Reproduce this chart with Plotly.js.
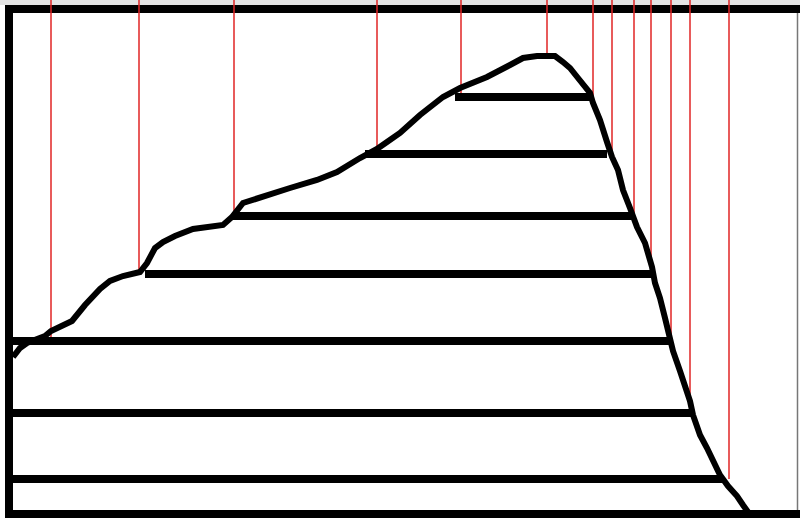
<!DOCTYPE html>
<html>
<head>
<meta charset="utf-8">
<script src="https://cdn.plot.ly/plotly-3.0.1.min.js"></script>
<style>html,body{margin:0;padding:0;background:#fff;}#chart{width:800px;height:518px;}</style>
</head>
<body>
<div id="chart"></div>
<script>
// Mountain profile (horizontal position, elevation)
var profileX = [13,20,27,45,51,60,72,85,100,110,123,140,147,155,163,175,193,223,232,243,267,290,317,337,360,377,387,400,420,443,460,487,510,523,537,555,563,570,578,583,590,593,600,607,612,618,623,630,637,645,652,655,660,665,670,673,680,685,690,693,700,707,713,720,728,737,743,748];
var profileElev = [161,170,175,182,187,191,197,213,229,237,242,246,255,270,276,282,289,293,301,315,323,330,338,346,360,369,376,385,403,421,430,441,453,460,462,462,456,450,440,434,425,415,398,376,361,348,328,310,291,275,251,235,220,200,180,167,147,133,117,103,83,70,57,43,32,22,13,6];

// Horizontal level bars
var levelElev = [39,105,177,244,302,364,421];
var levelLeft = [13,13,13,145,232,365,455];
var levelRight = [722,692,670,651,632,607,590];

// Red vertical markers
var markerX = [51,139,234,377,461,547,593,612,634,651,671,690,729];
var markerEnd = [177,244,302,364,421,460,421,364,302,244,177,105,39];
var markerTop = 518;

var redX = [], redY = [];
markerX.forEach(function(x,i){ redX.push(x,x,null); redY.push(markerTop, markerEnd[i], null); });
var barX = [], barY = [];
levelElev.forEach(function(e,i){ barX.push(levelLeft[i], levelRight[i], null); barY.push(e,e,null); });

var traces = [
  {x: redX, y: redY, mode:'lines', line:{color:'#e02424', width:1.5}, hoverinfo:'skip', cliponaxis:false},
  {x: barX, y: barY, mode:'lines', line:{color:'#000', width:8}, hoverinfo:'skip'},
  {x: profileX, y: profileElev, mode:'lines', line:{color:'#000', width:6, shape:'linear'}, hoverinfo:'skip'}
];

var layout = {
  width:800, height:518,
  margin:{l:0,r:0,t:0,b:0,pad:0},
  paper_bgcolor:'#fff', plot_bgcolor:'#fff',
  showlegend:false,
  xaxis:{range:[0,800], visible:false, fixedrange:true},
  yaxis:{range:[0,518], visible:false, fixedrange:true},
  shapes:[
    {type:'rect', xref:'x', yref:'y', x0:0, x1:800, y0:513, y1:518, fillcolor:'#e4e4e4', line:{width:0}, layer:'below'},
    {type:'rect', xref:'x', yref:'y', x0:5, x1:800, y0:505, y1:513, fillcolor:'#000', line:{width:0}, layer:'below'},
    {type:'rect', xref:'x', yref:'y', x0:5, x1:13, y0:0, y1:513, fillcolor:'#000', line:{width:0}, layer:'below'},
    {type:'rect', xref:'x', yref:'y', x0:5, x1:800, y0:0, y1:8, fillcolor:'#000', line:{width:0}, layer:'below'},
    {type:'line', xref:'x', yref:'y', x0:797.5, x1:797.5, y0:8, y1:505, line:{color:'#777', width:1.5}, layer:'below'}
  ]
};

Plotly.newPlot('chart', traces, layout, {displayModeBar:false, staticPlot:true});
</script>
</body>
</html>
